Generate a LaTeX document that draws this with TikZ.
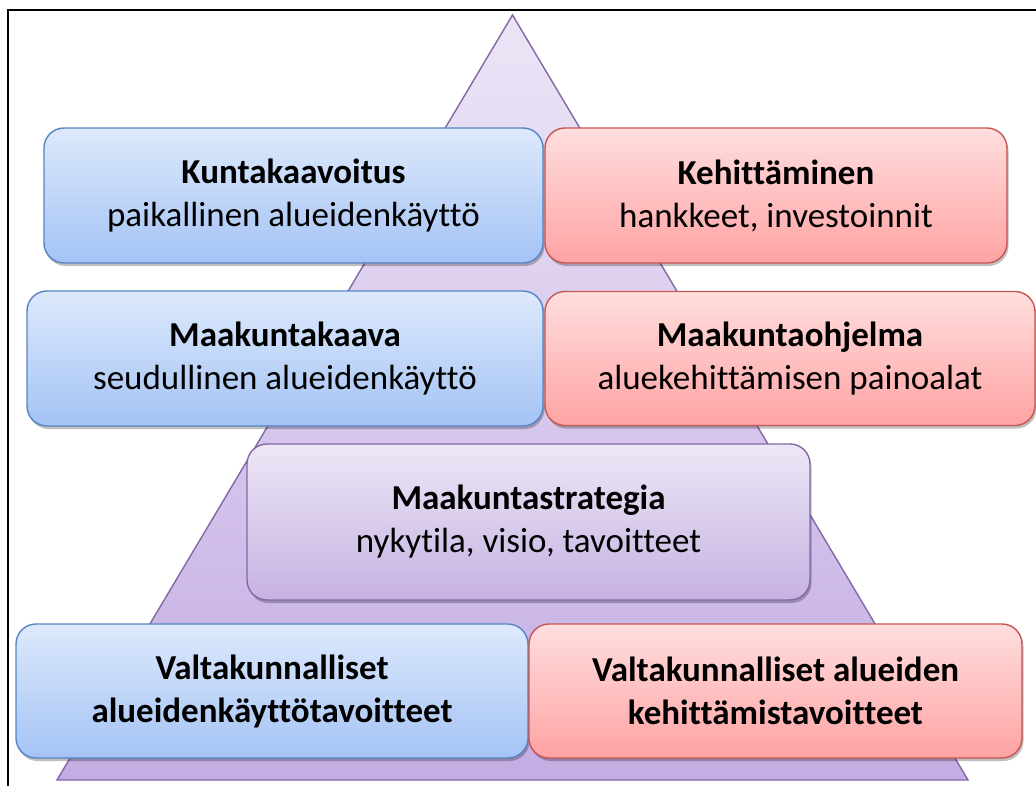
\documentclass[tikz,border=0pt]{standalone}
\usepackage{fontspec}
\setmainfont[Ligatures=NoCommon]{Carlito}
\usetikzlibrary{shadows}
\definecolor{bluetop}{HTML}{DDE9FC}
\definecolor{bluebot}{HTML}{A4C3F5}
\definecolor{blueline}{HTML}{5585C2}
\definecolor{redtop}{HTML}{FFDEDE}
\definecolor{redbot}{HTML}{FFA3A3}
\definecolor{redline}{HTML}{C55652}
\definecolor{purtop}{HTML}{EDE7F7}
\definecolor{purbot}{HTML}{C6B2E2}
\definecolor{purline}{HTML}{8468A6}
\definecolor{tritop}{HTML}{ECE5F6}
\definecolor{tribot}{HTML}{C3ACE3}
\begin{document}
\begin{tikzpicture}[x=1pt,y=-1pt,
  boxbase/.style={rounded corners=20pt, line width=1.4pt, align=center,
    inner sep=0pt, font=\fontsize{35}{43}\selectfont,
    drop shadow={shadow xshift=1.5pt, shadow yshift=-3pt, opacity=0.25, fill=black}},
  bluebox/.style={boxbase, draw=blueline, top color=bluetop, bottom color=bluebot},
  redbox/.style={boxbase, draw=redline, top color=redtop, bottom color=redbot},
  purbox/.style={boxbase, draw=purline, top color=purtop, bottom color=purbot},
  frameline/.style={line width=1.6pt, black}]
\useasboundingbox (0,0) rectangle (1036,785);
\fill[white] (0,0) rectangle (1036,785);
% frame
\coordinate (fbl) at (8,790);
\coordinate (ftl) at (8,10);
\coordinate (ftr) at (1040,10);
\draw[frameline] (fbl) -- (ftl) -- (ftr);
% pyramid
\coordinate (apex) at (512.5,15);
\coordinate (bl) at (57,780);
\coordinate (br) at (968,780);
\draw[purline, line width=1.4pt, top color=tritop, bottom color=tribot] (apex) -- (bl) -- (br) -- cycle;
% boxes
\node[bluebox, minimum width=499pt, minimum height=135pt] (kunta) at (293.5,195.5)
  {\textbf{Kuntakaavoitus}\\paikallinen alueidenkäyttö};
\node[redbox, minimum width=462pt, minimum height=135pt] (kehit) at (776,195.5)
  {\textbf{Kehittäminen}\\hankkeet, investoinnit};
\node[bluebox, minimum width=516pt, minimum height=135pt] (mkaava) at (285,358.5)
  {\textbf{Maakuntakaava}\\seudullinen alueidenkäyttö};
\node[redbox, minimum width=490pt, minimum height=134pt] (mohj) at (790,358.5)
  {\textbf{Maakuntaohjelma}\\aluekehittämisen painoalat};
\node[purbox, minimum width=563pt, minimum height=156pt] (mstrat) at (528.5,522)
  {\textbf{Maakuntastrategia}\\nykytila, visio, tavoitteet};
\node[bluebox, minimum width=512pt, minimum height=134pt] (vak) at (272,691)
  {\textbf{Valtakunnalliset}\\\textbf{alueidenkäyttötavoitteet}};
\node[redbox, minimum width=493pt, minimum height=134pt] (vake) at (775.5,691)
  {\textbf{Valtakunnalliset alueiden}\\\textbf{kehittämistavoitteet}};
\end{tikzpicture}
\end{document}
